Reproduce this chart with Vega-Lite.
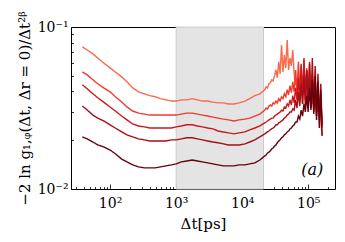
{
"$schema":"https://vega.github.io/schema/vega-lite/v6.json",
"width":264,"height":162,
"autosize":{"type":"none"},
"padding":{"left":71,"top":27,"right":10,"bottom":53},
"background":"white",
"config":{"view":{"stroke":"black","strokeWidth":1}},
"layer":[
{"data":{"values":[{"band":"window"}]},
 "mark":{"type":"rect","fill":"#e4e4e4","stroke":"#cccccc","strokeWidth":1},
 "encoding":{"x":{"datum":1000,"type":"quantitative"},"x2":{"datum":21000}}},
{"data":{"values":[
{"s":1,"x":38,"y":0.0753},{"s":1,"x":45,"y":0.0721},{"s":1,"x":55,"y":0.0682},{"s":1,"x":65,"y":0.0644},{"s":1,"x":80,"y":0.0600},{"s":1,"x":100,"y":0.0559},{"s":1,"x":120,"y":0.0528},{"s":1,"x":150,"y":0.0492},{"s":1,"x":180,"y":0.0459},{"s":1,"x":220,"y":0.0421},{"s":1,"x":270,"y":0.0398},{"s":1,"x":330,"y":0.0387},{"s":1,"x":400,"y":0.0377},{"s":1,"x":480,"y":0.0371},{"s":1,"x":580,"y":0.0361},{"s":1,"x":700,"y":0.0355},{"s":1,"x":850,"y":0.0349},{"s":1,"x":1000,"y":0.0349},{"s":1,"x":1200,"y":0.0355},{"s":1,"x":1450,"y":0.0355},{"s":1,"x":1750,"y":0.0361},{"s":1,"x":2100,"y":0.0355},{"s":1,"x":2500,"y":0.0349},{"s":1,"x":3000,"y":0.0349},{"s":1,"x":3600,"y":0.0344},{"s":1,"x":4300,"y":0.0340},{"s":1,"x":5200,"y":0.0340},{"s":1,"x":6200,"y":0.0335},{"s":1,"x":7500,"y":0.0335},{"s":1,"x":9000,"y":0.0340},{"s":1,"x":11000,"y":0.0349},{"s":1,"x":13000,"y":0.0361},{"s":1,"x":15500,"y":0.0377},{"s":1,"x":18500,"y":0.0387},
{"s":1,"x":22000,"y":0.0410},{"s":1,"x":23000,"y":0.0427},{"s":1,"x":24200,"y":0.0421},{"s":1,"x":25400,"y":0.0446},{"s":1,"x":26700,"y":0.0452},{"s":1,"x":28000,"y":0.0472},{"s":1,"x":29400,"y":0.0465},{"s":1,"x":30900,"y":0.0499},{"s":1,"x":32400,"y":0.0543},{"s":1,"x":34000,"y":0.0486},{"s":1,"x":35700,"y":0.0609},{"s":1,"x":37500,"y":0.0514},{"s":1,"x":39400,"y":0.0775},{"s":1,"x":41400,"y":0.0528},{"s":1,"x":43500,"y":0.0672},{"s":1,"x":45700,"y":0.0559},{"s":1,"x":48000,"y":0.0831},{"s":1,"x":50400,"y":0.0543},{"s":1,"x":52900,"y":0.0644},{"s":1,"x":55500,"y":0.0575},{"s":1,"x":58300,"y":0.0721},{"s":1,"x":61200,"y":0.0514},{"s":1,"x":64300,"y":0.0440},{"s":1,"x":67500,"y":0.0486},{"s":1,"x":70900,"y":0.0410},{"s":1,"x":74400,"y":0.0472},{"s":1,"x":78100,"y":0.0398},{"s":1,"x":82000,"y":0.0446},{"s":1,"x":86100,"y":0.0382},{"s":1,"x":90400,"y":0.0434},{"s":1,"x":94900,"y":0.0366},{"s":1,"x":99600,"y":0.0410},{"s":1,"x":104600,"y":0.0355},{"s":1,"x":109800,"y":0.0398},{"s":1,"x":115300,"y":0.0335},{"s":1,"x":121100,"y":0.0377},{"s":1,"x":127200,"y":0.0316},{"s":1,"x":133500,"y":0.0355},{"s":1,"x":140200,"y":0.0299},{"s":1,"x":147200,"y":0.0335},{"s":1,"x":154600,"y":0.0267},{"s":1,"x":162000,"y":0.0213},
{"s":2,"x":38,"y":0.0528},{"s":2,"x":45,"y":0.0506},{"s":2,"x":55,"y":0.0472},{"s":2,"x":65,"y":0.0446},{"s":2,"x":80,"y":0.0421},{"s":2,"x":100,"y":0.0398},{"s":2,"x":120,"y":0.0371},{"s":2,"x":150,"y":0.0344},{"s":2,"x":180,"y":0.0321},{"s":2,"x":220,"y":0.0303},{"s":2,"x":270,"y":0.0294},{"s":2,"x":330,"y":0.0290},{"s":2,"x":400,"y":0.0286},{"s":2,"x":480,"y":0.0286},{"s":2,"x":580,"y":0.0286},{"s":2,"x":700,"y":0.0286},{"s":2,"x":850,"y":0.0286},{"s":2,"x":1000,"y":0.0286},{"s":2,"x":1200,"y":0.0290},{"s":2,"x":1450,"y":0.0294},{"s":2,"x":1750,"y":0.0294},{"s":2,"x":2100,"y":0.0290},{"s":2,"x":2500,"y":0.0286},{"s":2,"x":3000,"y":0.0282},{"s":2,"x":3600,"y":0.0278},{"s":2,"x":4300,"y":0.0274},{"s":2,"x":5200,"y":0.0270},{"s":2,"x":6200,"y":0.0267},{"s":2,"x":7500,"y":0.0263},{"s":2,"x":9000,"y":0.0267},{"s":2,"x":11000,"y":0.0270},{"s":2,"x":13000,"y":0.0274},{"s":2,"x":15500,"y":0.0282},{"s":2,"x":18500,"y":0.0290},
{"s":2,"x":22000,"y":0.0307},{"s":2,"x":23000,"y":0.0316},{"s":2,"x":24200,"y":0.0312},{"s":2,"x":25400,"y":0.0325},{"s":2,"x":26700,"y":0.0330},{"s":2,"x":28000,"y":0.0325},{"s":2,"x":29400,"y":0.0340},{"s":2,"x":30900,"y":0.0335},{"s":2,"x":32400,"y":0.0349},{"s":2,"x":34000,"y":0.0340},{"s":2,"x":35700,"y":0.0361},{"s":2,"x":37500,"y":0.0349},{"s":2,"x":39400,"y":0.0371},{"s":2,"x":41400,"y":0.0361},{"s":2,"x":43500,"y":0.0387},{"s":2,"x":45700,"y":0.0371},{"s":2,"x":48000,"y":0.0410},{"s":2,"x":50400,"y":0.0382},{"s":2,"x":52900,"y":0.0434},{"s":2,"x":55500,"y":0.0393},{"s":2,"x":58300,"y":0.0459},{"s":2,"x":61200,"y":0.0398},{"s":2,"x":64300,"y":0.0543},{"s":2,"x":67500,"y":0.0398},{"s":2,"x":70900,"y":0.0609},{"s":2,"x":74400,"y":0.0410},{"s":2,"x":78100,"y":0.0575},{"s":2,"x":82000,"y":0.0377},{"s":2,"x":86100,"y":0.0626},{"s":2,"x":90400,"y":0.0387},{"s":2,"x":94900,"y":0.0559},{"s":2,"x":99600,"y":0.0355},{"s":2,"x":104600,"y":0.0528},{"s":2,"x":109800,"y":0.0335},{"s":2,"x":115300,"y":0.0499},{"s":2,"x":121100,"y":0.0316},{"s":2,"x":127200,"y":0.0446},{"s":2,"x":133500,"y":0.0299},{"s":2,"x":140200,"y":0.0410},{"s":2,"x":147200,"y":0.0274},{"s":2,"x":154600,"y":0.0355},{"s":2,"x":162000,"y":0.0238},
{"s":3,"x":38,"y":0.0440},{"s":3,"x":45,"y":0.0416},{"s":3,"x":55,"y":0.0387},{"s":3,"x":65,"y":0.0366},{"s":3,"x":80,"y":0.0344},{"s":3,"x":100,"y":0.0321},{"s":3,"x":120,"y":0.0303},{"s":3,"x":150,"y":0.0282},{"s":3,"x":180,"y":0.0267},{"s":3,"x":220,"y":0.0252},{"s":3,"x":270,"y":0.0245},{"s":3,"x":330,"y":0.0242},{"s":3,"x":400,"y":0.0238},{"s":3,"x":480,"y":0.0238},{"s":3,"x":580,"y":0.0238},{"s":3,"x":700,"y":0.0238},{"s":3,"x":850,"y":0.0238},{"s":3,"x":1000,"y":0.0242},{"s":3,"x":1200,"y":0.0245},{"s":3,"x":1450,"y":0.0249},{"s":3,"x":1750,"y":0.0249},{"s":3,"x":2100,"y":0.0245},{"s":3,"x":2500,"y":0.0242},{"s":3,"x":3000,"y":0.0238},{"s":3,"x":3600,"y":0.0235},{"s":3,"x":4300,"y":0.0228},{"s":3,"x":5200,"y":0.0225},{"s":3,"x":6200,"y":0.0222},{"s":3,"x":7500,"y":0.0219},{"s":3,"x":9000,"y":0.0222},{"s":3,"x":11000,"y":0.0225},{"s":3,"x":13000,"y":0.0232},{"s":3,"x":15500,"y":0.0238},{"s":3,"x":18500,"y":0.0245},
{"s":3,"x":22000,"y":0.0256},{"s":3,"x":23000,"y":0.0259},{"s":3,"x":24200,"y":0.0263},{"s":3,"x":25400,"y":0.0267},{"s":3,"x":26700,"y":0.0270},{"s":3,"x":28000,"y":0.0274},{"s":3,"x":29400,"y":0.0274},{"s":3,"x":30900,"y":0.0282},{"s":3,"x":32400,"y":0.0286},{"s":3,"x":34000,"y":0.0290},{"s":3,"x":35700,"y":0.0294},{"s":3,"x":37500,"y":0.0299},{"s":3,"x":39400,"y":0.0307},{"s":3,"x":41400,"y":0.0303},{"s":3,"x":43500,"y":0.0321},{"s":3,"x":45700,"y":0.0316},{"s":3,"x":48000,"y":0.0335},{"s":3,"x":50400,"y":0.0325},{"s":3,"x":52900,"y":0.0355},{"s":3,"x":55500,"y":0.0330},{"s":3,"x":58300,"y":0.0377},{"s":3,"x":61200,"y":0.0340},{"s":3,"x":64300,"y":0.0421},{"s":3,"x":67500,"y":0.0355},{"s":3,"x":70900,"y":0.0486},{"s":3,"x":74400,"y":0.0344},{"s":3,"x":78100,"y":0.0592},{"s":3,"x":82000,"y":0.0335},{"s":3,"x":86100,"y":0.0644},{"s":3,"x":90400,"y":0.0355},{"s":3,"x":94900,"y":0.0543},{"s":3,"x":99600,"y":0.0325},{"s":3,"x":104600,"y":0.0609},{"s":3,"x":109800,"y":0.0316},{"s":3,"x":115300,"y":0.0514},{"s":3,"x":121100,"y":0.0299},{"s":3,"x":127200,"y":0.0472},{"s":3,"x":133500,"y":0.0282},{"s":3,"x":140200,"y":0.0434},{"s":3,"x":147200,"y":0.0267},{"s":3,"x":154600,"y":0.0377},{"s":3,"x":162000,"y":0.0245},
{"s":4,"x":38,"y":0.0325},{"s":4,"x":45,"y":0.0307},{"s":4,"x":55,"y":0.0286},{"s":4,"x":65,"y":0.0274},{"s":4,"x":80,"y":0.0263},{"s":4,"x":100,"y":0.0249},{"s":4,"x":120,"y":0.0238},{"s":4,"x":150,"y":0.0225},{"s":4,"x":180,"y":0.0216},{"s":4,"x":220,"y":0.0210},{"s":4,"x":270,"y":0.0204},{"s":4,"x":330,"y":0.0201},{"s":4,"x":400,"y":0.0198},{"s":4,"x":480,"y":0.0198},{"s":4,"x":580,"y":0.0198},{"s":4,"x":700,"y":0.0198},{"s":4,"x":850,"y":0.0201},{"s":4,"x":1000,"y":0.0201},{"s":4,"x":1200,"y":0.0204},{"s":4,"x":1450,"y":0.0207},{"s":4,"x":1750,"y":0.0207},{"s":4,"x":2100,"y":0.0204},{"s":4,"x":2500,"y":0.0201},{"s":4,"x":3000,"y":0.0198},{"s":4,"x":3600,"y":0.0195},{"s":4,"x":4300,"y":0.0193},{"s":4,"x":5200,"y":0.0190},{"s":4,"x":6200,"y":0.0187},{"s":4,"x":7500,"y":0.0187},{"s":4,"x":9000,"y":0.0187},{"s":4,"x":11000,"y":0.0190},{"s":4,"x":13000,"y":0.0195},{"s":4,"x":15500,"y":0.0201},{"s":4,"x":18500,"y":0.0210},
{"s":4,"x":22000,"y":0.0219},{"s":4,"x":23000,"y":0.0222},{"s":4,"x":24200,"y":0.0225},{"s":4,"x":25400,"y":0.0228},{"s":4,"x":26700,"y":0.0232},{"s":4,"x":28000,"y":0.0235},{"s":4,"x":29400,"y":0.0238},{"s":4,"x":30900,"y":0.0242},{"s":4,"x":32400,"y":0.0249},{"s":4,"x":34000,"y":0.0249},{"s":4,"x":35700,"y":0.0256},{"s":4,"x":37500,"y":0.0259},{"s":4,"x":39400,"y":0.0263},{"s":4,"x":41400,"y":0.0267},{"s":4,"x":43500,"y":0.0274},{"s":4,"x":45700,"y":0.0278},{"s":4,"x":48000,"y":0.0286},{"s":4,"x":50400,"y":0.0290},{"s":4,"x":52900,"y":0.0299},{"s":4,"x":55500,"y":0.0299},{"s":4,"x":58300,"y":0.0312},{"s":4,"x":61200,"y":0.0307},{"s":4,"x":64300,"y":0.0355},{"s":4,"x":67500,"y":0.0316},{"s":4,"x":70900,"y":0.0398},{"s":4,"x":74400,"y":0.0325},{"s":4,"x":78100,"y":0.0446},{"s":4,"x":82000,"y":0.0335},{"s":4,"x":86100,"y":0.0499},{"s":4,"x":90400,"y":0.0325},{"s":4,"x":94900,"y":0.0543},{"s":4,"x":99600,"y":0.0344},{"s":4,"x":104600,"y":0.0592},{"s":4,"x":109800,"y":0.0316},{"s":4,"x":115300,"y":0.0644},{"s":4,"x":121100,"y":0.0307},{"s":4,"x":127200,"y":0.0575},{"s":4,"x":133500,"y":0.0282},{"s":4,"x":140200,"y":0.0514},{"s":4,"x":147200,"y":0.0267},{"s":4,"x":154600,"y":0.0446},{"s":4,"x":162000,"y":0.0252},
{"s":5,"x":38,"y":0.0210},{"s":5,"x":45,"y":0.0204},{"s":5,"x":55,"y":0.0195},{"s":5,"x":65,"y":0.0187},{"s":5,"x":80,"y":0.0182},{"s":5,"x":100,"y":0.0174},{"s":5,"x":120,"y":0.0165},{"s":5,"x":150,"y":0.0153},{"s":5,"x":180,"y":0.0147},{"s":5,"x":220,"y":0.0141},{"s":5,"x":270,"y":0.0137},{"s":5,"x":330,"y":0.0135},{"s":5,"x":400,"y":0.0135},{"s":5,"x":480,"y":0.0135},{"s":5,"x":580,"y":0.0137},{"s":5,"x":700,"y":0.0139},{"s":5,"x":850,"y":0.0141},{"s":5,"x":1000,"y":0.0143},{"s":5,"x":1200,"y":0.0147},{"s":5,"x":1450,"y":0.0149},{"s":5,"x":1750,"y":0.0151},{"s":5,"x":2100,"y":0.0149},{"s":5,"x":2500,"y":0.0147},{"s":5,"x":3000,"y":0.0145},{"s":5,"x":3600,"y":0.0143},{"s":5,"x":4300,"y":0.0141},{"s":5,"x":5200,"y":0.0139},{"s":5,"x":6200,"y":0.0139},{"s":5,"x":7500,"y":0.0139},{"s":5,"x":9000,"y":0.0141},{"s":5,"x":11000,"y":0.0141},{"s":5,"x":13000,"y":0.0143},{"s":5,"x":15500,"y":0.0145},{"s":5,"x":18500,"y":0.0151},
{"s":5,"x":22000,"y":0.0160},{"s":5,"x":23000,"y":0.0162},{"s":5,"x":24200,"y":0.0167},{"s":5,"x":25400,"y":0.0169},{"s":5,"x":26700,"y":0.0172},{"s":5,"x":28000,"y":0.0177},{"s":5,"x":29400,"y":0.0179},{"s":5,"x":30900,"y":0.0184},{"s":5,"x":32400,"y":0.0187},{"s":5,"x":34000,"y":0.0193},{"s":5,"x":35700,"y":0.0198},{"s":5,"x":37500,"y":0.0201},{"s":5,"x":39400,"y":0.0207},{"s":5,"x":41400,"y":0.0210},{"s":5,"x":43500,"y":0.0216},{"s":5,"x":45700,"y":0.0219},{"s":5,"x":48000,"y":0.0225},{"s":5,"x":50400,"y":0.0228},{"s":5,"x":52900,"y":0.0235},{"s":5,"x":55500,"y":0.0238},{"s":5,"x":58300,"y":0.0245},{"s":5,"x":61200,"y":0.0249},{"s":5,"x":64300,"y":0.0259},{"s":5,"x":67500,"y":0.0259},{"s":5,"x":70900,"y":0.0282},{"s":5,"x":74400,"y":0.0270},{"s":5,"x":78100,"y":0.0307},{"s":5,"x":82000,"y":0.0282},{"s":5,"x":86100,"y":0.0335},{"s":5,"x":90400,"y":0.0299},{"s":5,"x":94900,"y":0.0377},{"s":5,"x":99600,"y":0.0299},{"s":5,"x":104600,"y":0.0421},{"s":5,"x":109800,"y":0.0307},{"s":5,"x":115300,"y":0.0472},{"s":5,"x":121100,"y":0.0290},{"s":5,"x":127200,"y":0.0499},{"s":5,"x":133500,"y":0.0267},{"s":5,"x":140200,"y":0.0459},{"s":5,"x":147200,"y":0.0238},{"s":5,"x":154600,"y":0.0410},{"s":5,"x":162000,"y":0.0213}
]},
 "mark":{"type":"line","strokeWidth":1.4,"clip":true},
 "encoding":{
  "x":{"field":"x","type":"quantitative","scale":{"type":"log","domain":[25.6,254000],"nice":false},
   "axis":{"values":[30,40,50,60,70,80,90,100,200,300,400,500,600,700,800,900,1000,2000,3000,4000,5000,6000,7000,8000,9000,10000,20000,30000,40000,50000,60000,70000,80000,90000,100000,200000],
    "labelExpr":"datum.value==100?'10²':datum.value==1000?'10³':datum.value==10000?'10⁴':datum.value==100000?'10⁵':''",
    "tickSize":{"condition":{"test":"datum.value==100||datum.value==1000||datum.value==10000||datum.value==100000","value":-5},"value":-2.5},
    "tickColor":"black","tickWidth":0.8,"domain":false,"grid":false,"labelOverlap":false,"labelFlush":false,
    "labelFont":"DejaVu Serif","labelFontSize":14,"labelColor":"black","labelPadding":12,
    "title":"Δt[ps]","titleFont":"DejaVu Serif","titleFontSize":15,"titleFontWeight":"normal","titleColor":"black","titlePadding":4}},
  "y":{"field":"y","type":"quantitative","scale":{"type":"log","domain":[0.01,0.1],"nice":false},
   "axis":{"values":[0.01,0.02,0.03,0.04,0.05,0.06,0.07,0.08,0.09,0.1],
    "labelExpr":"datum.value==0.1?'10⁻¹':datum.value==0.01?'10⁻²':''",
    "tickSize":{"condition":{"test":"datum.value==0.1||datum.value==0.01","value":-5},"value":-2.5},
    "tickColor":"black","tickWidth":0.8,"domain":false,"grid":false,"labelOverlap":false,"labelFlush":false,
    "labelFont":"DejaVu Serif","labelFontSize":14,"labelColor":"black","labelPadding":8,
    "title":"−2 ln g₁,ᵩ(Δt, Δr = 0)/Δt²ᵝ","titleFont":"DejaVu Serif","titleFontSize":15,"titleFontWeight":"normal","titleColor":"black","titlePadding":5}},
  "color":{"field":"s","type":"nominal","legend":null,
   "scale":{"domain":[1,2,3,4,5],"range":["#fb6a4a","#ef3b2c","#cb181d","#a50f15","#67000d"]}}
 }},
{"data":{"values":[{"label":"(a)"}]},
 "mark":{"type":"text","font":"DejaVu Serif","fontSize":16,"fontStyle":"italic","align":"center","baseline":"middle","color":"black"},
 "encoding":{"text":{"field":"label"},"x":{"datum":115000,"type":"quantitative"},"y":{"datum":0.0131,"type":"quantitative"}}}
]
}
